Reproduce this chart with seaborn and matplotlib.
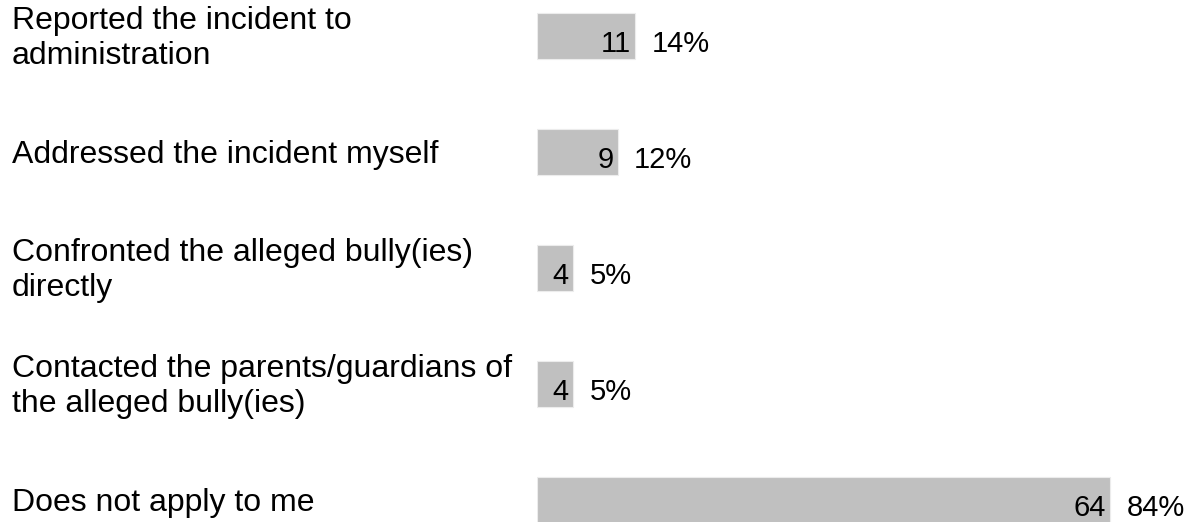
import numpy as np
import pandas as pd
import matplotlib
matplotlib.use("Agg")
import matplotlib.pyplot as plt
import matplotlib.transforms as mtransforms
import seaborn as sns

# data
labels = [
    "Reported the incident to\nadministration",
    "Addressed the incident myself",
    "Confronted the alleged bully(ies)\ndirectly",
    "Contacted the parents/guardians of\nthe alleged bully(ies)",
    "Does not apply to me",
]
counts = [11, 9, 4, 4, 64]
percents = ["14%", "12%", "5%", "5%", "84%"]

BAR_COLOR = "#c0c0c0"
FONT = "Liberation Sans"

sns.set_style("white")
plt.rcParams["font.family"] = [FONT, "DejaVu Sans"]

W, H, DPI = 1188, 522, 100
PX_PER_UNIT = 8.95
fig = plt.figure(figsize=(W / DPI, H / DPI), dpi=DPI)
# axes start where the bars start (x = 537 px) and fill the full height
ax = fig.add_axes([537 / W, 0, (W - 537) / W, 1])

df = pd.DataFrame({"label": labels, "count": counts})
sns.barplot(data=df, x="count", y="label", orient="h", color=BAR_COLOR,
            saturation=1, width=0.405, edgecolor="#ececec", linewidth=0.8,
            ax=ax)

# rows every 116 px, first row centred at 36 px
ax.set_xlim(0, (W - 537) / PX_PER_UNIT)
ax.set_ylim((H - 36) / 116, -36 / 116)
ax.set_axis_off()

# left-hand category labels: figure x, data y
trans = mtransforms.blended_transform_factory(fig.transFigure, ax.transData)
for i, lab in enumerate(labels):
    ax.annotate(lab, xy=(12 / W, i), xycoords=trans,
                xytext=(0, -2), textcoords="offset points",
                ha="left", va="center", fontsize=23, color="black")

# count inside bar end, percent just after
for i, (c, p) in enumerate(zip(counts, percents)):
    ax.annotate(str(c), xy=(c, i), xytext=(-3, -11.5),
                textcoords="offset points", ha="right", va="baseline",
                fontsize=21, color="black")
    ax.annotate(p, xy=(c, i), xytext=(12, -11.5),
                textcoords="offset points", ha="left", va="baseline",
                fontsize=21, color="black")

fig.savefig("out.png", dpi=DPI, facecolor="white")
